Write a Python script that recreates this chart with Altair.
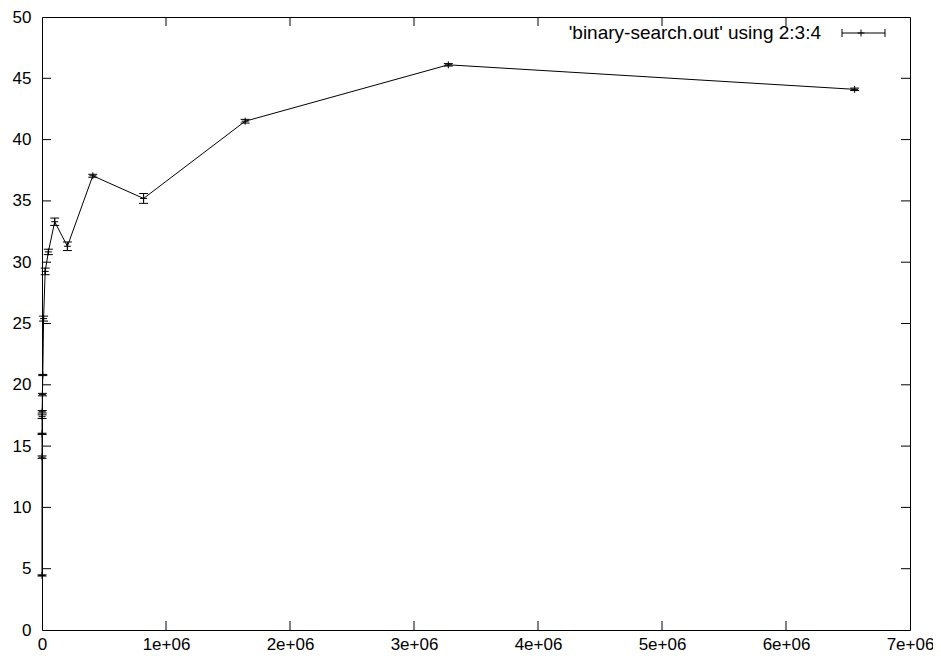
import altair as alt
import pandas as pd

sizes = [100, 200, 400, 800, 1600, 3200, 6400, 12800, 25600, 51200, 102400,
         204800, 409600, 819200, 1638400, 3276800, 6553600]
means = [4.45, 14.1, 16.0, 17.4, 17.8, 19.2, 20.8, 25.4, 29.25, 30.84, 33.3,
         31.3, 37.05, 35.2, 41.5, 46.1, 44.1]
errs = [0.05, 0.1, 0.05, 0.15, 0.1, 0.1, 0.05, 0.2, 0.27, 0.22, 0.3,
        0.35, 0.12, 0.4, 0.15, 0.1, 0.1]
x_ticks = [0, 1e6, 2e6, 3e6, 4e6, 5e6, 6e6, 7e6]
y_ticks = [0, 5, 10, 15, 20, 25, 30, 35, 40, 45, 50]
legend_label = "'binary-search.out' using 2:3:4"

W, H = 868, 613
FONT = "Liberation Sans"
FS = 17

df = pd.DataFrame({"x": sizes, "y": means, "e": errs})
df["lo"] = df["y"] - df["e"]
df["hi"] = df["y"] + df["e"]

xscale = alt.Scale(domain=[0, 7e6], nice=False, zero=False)
yscale = alt.Scale(domain=[0, 50], nice=False, zero=False)

xaxis = alt.Axis(values=x_ticks, title=None, ticks=False, domain=False, grid=False,
                 labelFont=FONT, labelFontSize=FS, labelColor="black", labelPadding=6,
                 labelExpr="datum.value == 0 ? '0' : format(datum.value / 1e6, 'd') + 'e+06'",
                 labelFlush=False, labelOverlap=False)
yaxis = alt.Axis(values=y_ticks, title=None, ticks=False, domain=False, grid=False,
                 labelFont=FONT, labelFontSize=FS, labelColor="black", labelPadding=11,
                 labelOverlap=False)

base = alt.Chart(df)

line = base.mark_line(color="black", strokeWidth=1).encode(
    x=alt.X("x:Q", scale=xscale, axis=xaxis),
    y=alt.Y("y:Q", scale=yscale, axis=yaxis),
)
bars = base.mark_rule(color="black", strokeWidth=1).encode(
    x=alt.X("x:Q", scale=xscale), y=alt.Y("lo:Q", scale=yscale), y2="hi:Q")
cap_shape = "M-1,0L1,0"
cap_lo = base.mark_point(shape=cap_shape, size=81, filled=False, color="black",
                         strokeWidth=1, opacity=1).encode(
    x=alt.X("x:Q", scale=xscale), y=alt.Y("lo:Q", scale=yscale))
cap_hi = base.mark_point(shape=cap_shape, size=81, filled=False, color="black",
                         strokeWidth=1, opacity=1).encode(
    x=alt.X("x:Q", scale=xscale), y=alt.Y("hi:Q", scale=yscale))
plus = base.mark_point(shape="M-1,0L1,0M0,-1L0,1", size=49, filled=False, color="black",
                       strokeWidth=1, opacity=1).encode(
    x=alt.X("x:Q", scale=xscale), y=alt.Y("y:Q", scale=yscale))

xt = alt.Chart(pd.DataFrame({"t": x_ticks[1:-1]}))
yt = alt.Chart(pd.DataFrame({"t": y_ticks[1:-1]}))
TL = 9
xt_bot = xt.mark_rule(color="black", strokeWidth=1).encode(
    x=alt.X("t:Q", scale=xscale), y=alt.value(H), y2=alt.value(H - TL))
xt_top = xt.mark_rule(color="black", strokeWidth=1).encode(
    x=alt.X("t:Q", scale=xscale), y=alt.value(0), y2=alt.value(TL))
yt_left = yt.mark_rule(color="black", strokeWidth=1).encode(
    y=alt.Y("t:Q", scale=yscale), x=alt.value(0), x2=alt.value(TL))
yt_right = yt.mark_rule(color="black", strokeWidth=1).encode(
    y=alt.Y("t:Q", scale=yscale), x=alt.value(W), x2=alt.value(W - TL))

leg = alt.Chart(pd.DataFrame({"label": [legend_label]}))
LY = 16
leg_text = leg.mark_text(align="right", baseline="middle", font=FONT, fontSize=19,
                         color="black").encode(
    text="label:N", x=alt.value(779), y=alt.value(LY))
leg_line = leg.mark_rule(color="black", strokeWidth=1).encode(
    x=alt.value(800), x2=alt.value(843), y=alt.value(LY))
leg_cap1 = leg.mark_rule(color="black", strokeWidth=1).encode(
    x=alt.value(800), y=alt.value(LY - 4), y2=alt.value(LY + 4))
leg_cap2 = leg.mark_rule(color="black", strokeWidth=1).encode(
    x=alt.value(843), y=alt.value(LY - 4), y2=alt.value(LY + 4))
leg_plus = leg.mark_point(shape="M-1,0L1,0M0,-1L0,1", size=49, filled=False,
                          color="black", strokeWidth=1, opacity=1).encode(
    x=alt.value(819), y=alt.value(LY))

chart = alt.layer(
    xt_bot, xt_top, yt_left, yt_right,
    line, bars, cap_lo, cap_hi, plus,
    leg_text, leg_line, leg_cap1, leg_cap2, leg_plus,
).properties(
    width=W, height=H,
    autosize=alt.AutoSizeParams(type="none"),
    padding={"left": 34, "top": 9, "right": 23, "bottom": 24},
    background="white",
).configure_view(stroke="black", strokeWidth=1)

chart.save("out.html", embed_options={"renderer": "svg", "actions": False})
